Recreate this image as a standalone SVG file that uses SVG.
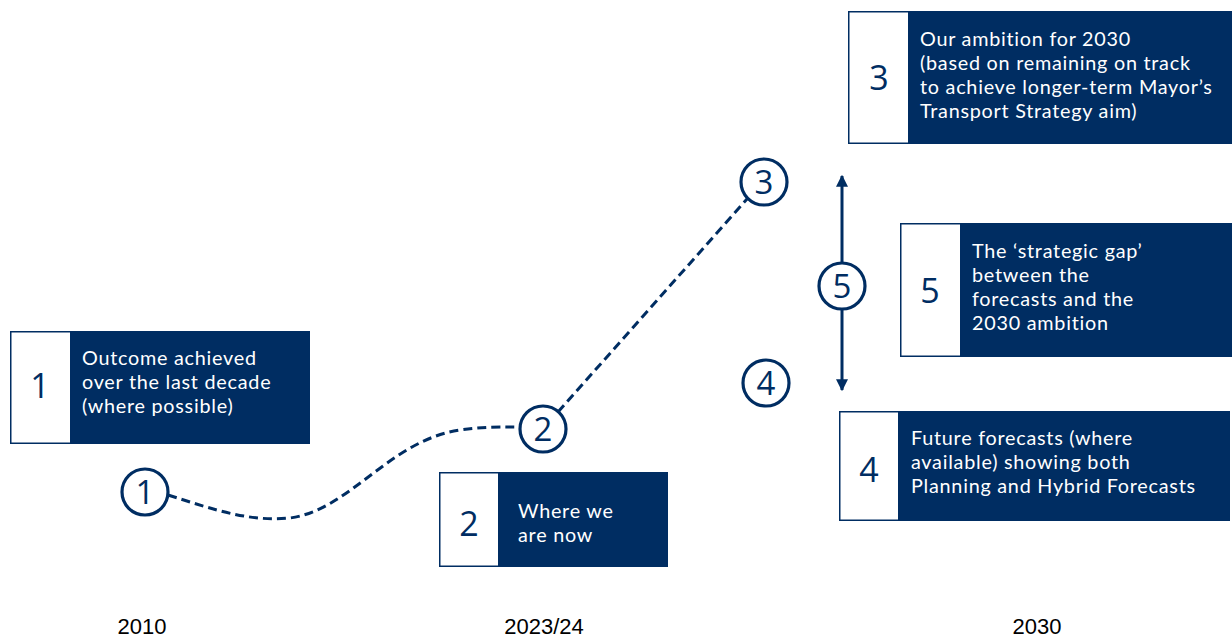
<svg xmlns="http://www.w3.org/2000/svg" width="1232" height="637" viewBox="0 0 1232 637">
<defs>
<style>
.dark{fill:#002d62}
.wh{fill:#fff;stroke:#002d62;stroke-width:1.5}
.num{font-family:"Open Sans",Lato,sans-serif;font-size:34px;fill:#002d62;text-anchor:middle}
.txt{font-family:Lato,"Open Sans",sans-serif;font-size:19.8px;letter-spacing:0.75px;fill:#fff}
.circ{fill:#fff;stroke:#002d62;stroke-width:3.2}
.cnum{font-family:"Open Sans",Lato,sans-serif;font-size:33px;fill:#002d62;text-anchor:middle}
.yr{font-family:"Liberation Sans",Arial,sans-serif;font-size:22px;fill:#000;text-anchor:middle}
.dash{fill:none;stroke:#002d62;stroke-width:3;stroke-dasharray:9 5}
</style>
<marker id="ah" viewBox="0 0 10 10" refX="9" refY="5" markerWidth="4" markerHeight="4" orient="auto-start-reverse" markerUnits="strokeWidth">
<path d="M0,0 L10,5 L0,10 z" fill="#002d62"/>
</marker>
</defs>
<rect width="1232" height="637" fill="#fff"/>
<g id="connectors">
<path class="dash" d="M168,495 C215,510 250,522 290,518 C350,510 390,440 460,430 C490,426 505,427 519,427"/>
<path class="dash" d="M558,412 L747,199"/>
<line x1="842" y1="176" x2="842" y2="390" stroke="#002d62" stroke-width="3" marker-start="url(#ah)" marker-end="url(#ah)"/>
</g>
<g id="box1">
<rect class="dark" x="10" y="331" width="300" height="113"/>
<rect class="wh" x="10.75" y="331.75" width="60" height="111.5"/>
<text class="num" x="40" y="398">1</text>
<text class="txt" x="82" y="365">Outcome achieved</text>
<text class="txt" x="82" y="389">over the last decade</text>
<text class="txt" x="82" y="413">(where possible)</text>
</g>
<g id="box2">
<rect class="dark" x="439" y="472" width="229" height="95"/>
<rect class="wh" x="439.75" y="472.75" width="59" height="93.5"/>
<text class="num" x="469" y="536">2</text>
<text class="txt" x="518" y="518">Where we</text>
<text class="txt" x="518" y="542">are now</text>
</g>
<g id="box3">
<rect class="dark" x="848" y="11" width="384" height="133"/>
<rect class="wh" x="848.75" y="11.75" width="60" height="131.5"/>
<text class="num" x="879" y="90">3</text>
<text class="txt" x="920" y="46">Our ambition for 2030</text>
<text class="txt" x="920" y="70">(based on remaining on track</text>
<text class="txt" x="920" y="94">to achieve longer-term Mayor’s</text>
<text class="txt" x="920" y="118">Transport Strategy aim)</text>
</g>
<g id="box5">
<rect class="dark" x="900" y="223" width="332" height="134"/>
<rect class="wh" x="900.75" y="223.75" width="60" height="132.5"/>
<text class="num" x="930" y="303">5</text>
<text class="txt" x="972" y="258">The ‘strategic gap’</text>
<text class="txt" x="972" y="282">between the</text>
<text class="txt" x="972" y="306">forecasts and the</text>
<text class="txt" x="972" y="330">2030 ambition</text>
</g>
<g id="box4">
<rect class="dark" x="839" y="411" width="391" height="110"/>
<rect class="wh" x="839.75" y="411.75" width="59" height="108.5"/>
<text class="num" x="869" y="482">4</text>
<text class="txt" x="911" y="445">Future forecasts (where</text>
<text class="txt" x="911" y="469">available) showing both</text>
<text class="txt" x="911" y="493">Planning and Hybrid Forecasts</text>
</g>
<g id="c1"><circle class="circ" cx="145" cy="492" r="23"/><text class="cnum" x="145" y="504">1</text></g>
<g id="c2"><circle class="circ" cx="543" cy="429" r="23"/><text class="cnum" x="543" y="441">2</text></g>
<g id="c3"><circle class="circ" cx="764" cy="182" r="23"/><text class="cnum" x="764" y="194">3</text></g>
<g id="c4"><circle class="circ" cx="766" cy="383" r="23"/><text class="cnum" x="766" y="395">4</text></g>
<g id="c5"><circle class="circ" cx="842" cy="286" r="23"/><text class="cnum" x="842" y="298">5</text></g>
<g id="years">
<text class="yr" x="142" y="634">2010</text>
<text class="yr" x="544" y="634">2023/24</text>
<text class="yr" x="1037" y="634">2030</text>
</g>
</svg>
